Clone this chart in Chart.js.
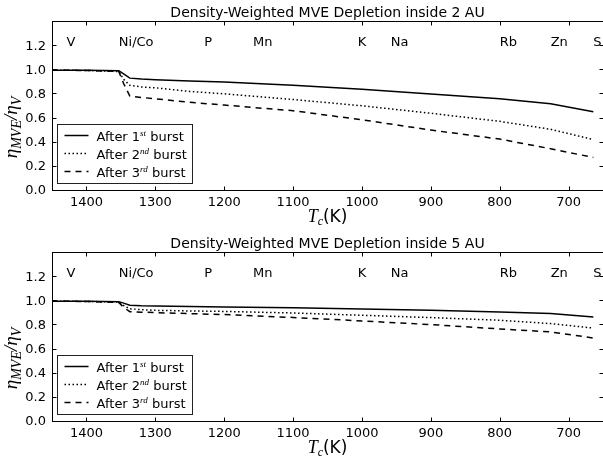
<!DOCTYPE html>
<html>
<head>
<meta charset="utf-8">
<script src="https://cdn.jsdelivr.net/npm/chart.js"></script>
<style>
  body { margin: 0; background: #fff; }
  canvas { display: block; }
</style>
</head>
<body>
<canvas id="chart2au" width="603" height="231"></canvas>
<canvas id="chart5au" width="603" height="233"></canvas>
<script>
// condensation temperature grid (K)
var tc = [1450, 1400, 1353, 1346, 1337, 1320, 1300, 1250, 1200, 1100, 1000, 900, 800, 726, 664];

// depletion ratio inside 2 AU
var au2Burst1 = [1.0, 1.0, 0.997, 0.97, 0.935, 0.927, 0.921, 0.912, 0.903, 0.876, 0.843, 0.803, 0.764, 0.722, 0.657];
var au2Burst2 = [1.0, 0.999, 0.99, 0.925, 0.875, 0.862, 0.855, 0.825, 0.805, 0.758, 0.706, 0.644, 0.577, 0.511, 0.426];
var au2Burst3 = [1.0, 0.999, 0.99, 0.89, 0.787, 0.775, 0.764, 0.735, 0.712, 0.665, 0.59, 0.505, 0.43, 0.35, 0.278];

// depletion ratio inside 5 AU
var au5Burst1 = [1.0, 1.0, 0.997, 0.985, 0.967, 0.963, 0.961, 0.957, 0.953, 0.946, 0.937, 0.925, 0.911, 0.898, 0.870];
var au5Burst2 = [1.0, 0.999, 0.993, 0.965, 0.938, 0.930, 0.925, 0.920, 0.916, 0.903, 0.884, 0.865, 0.843, 0.815, 0.778];
var au5Burst3 = [1.0, 0.999, 0.99, 0.95, 0.914, 0.910, 0.906, 0.898, 0.89, 0.866, 0.837, 0.807, 0.771, 0.746, 0.696];

var xTicks = [1400, 1300, 1200, 1100, 1000, 900, 800, 700];
var yTicks = [0, 0.2, 0.4, 0.6, 0.8, 1.0, 1.2];

// element labels placed at their condensation temperatures
var elements = ['V', 'Ni/Co', 'P', 'Mn', 'K', 'Na', 'Rb', 'Zn', 'S'];
var elementTc = [1429, 1353, 1229, 1158, 1006, 958, 800, 726, 664];

var burstNum = ['1', '2', '3'];
var burstSup = ['st', 'nd', 'rd'];
var lineDash = [[], [1.5, 2.5], [6, 5]];

var SANS = '"DejaVu Sans", sans-serif';
var SERIF = '"Liberation Serif", serif';

function points(ys) {
  return tc.map(function(t, i) { return { x: t, y: ys[i] }; });
}

// draws a run of [text, font, dy] pieces starting at x, returns end x
function drawRun(ctx, parts, x, y) {
  parts.forEach(function(p) {
    ctx.font = p[1];
    ctx.fillText(p[0], x, y + (p[2] || 0));
    x += ctx.measureText(p[0]).width;
  });
  return x;
}
function runWidth(ctx, parts) {
  var w = 0;
  parts.forEach(function(p) { ctx.font = p[1]; w += ctx.measureText(p[0]).width; });
  return w;
}

var decorations = {
  id: 'decorations',
  afterDraw: function(chart, args, opts) {
    var ctx = chart.ctx, a = chart.chartArea;
    var xs = chart.scales.x, ys = chart.scales.y;
    var L = Math.round(a.left) + 0.5, R = Math.round(a.right) + 0.5;
    var T = Math.round(a.top) - 0.5, B = Math.round(a.bottom) - 0.5;
    ctx.save();
    ctx.strokeStyle = '#000';
    ctx.fillStyle = '#000';
    ctx.lineWidth = 1;

    // frame
    ctx.strokeRect(L, T, R - L, B - T);

    // inward ticks on all four sides
    ctx.beginPath();
    xTicks.forEach(function(v) {
      var px = Math.round(xs.getPixelForValue(v)) + 0.5;
      ctx.moveTo(px, B); ctx.lineTo(px, B - 4);
      ctx.moveTo(px, T); ctx.lineTo(px, T + 4);
    });
    yTicks.forEach(function(v) {
      var py = Math.round(ys.getPixelForValue(v)) - 0.5;
      ctx.moveTo(L, py); ctx.lineTo(L + 4, py);
      ctx.moveTo(R, py); ctx.lineTo(R - 4, py);
    });
    ctx.stroke();

    // element names
    ctx.font = '13px ' + SANS;
    ctx.textAlign = 'left';
    ctx.textBaseline = 'alphabetic';
    elements.forEach(function(el, i) {
      ctx.fillText(el, xs.getPixelForValue(elementTc[i]), ys.getPixelForValue(1.2));
    });

    // title
    var cx = (a.left + a.right) / 2;
    ctx.textAlign = 'center';
    ctx.textBaseline = 'middle';
    ctx.font = '14px ' + SANS;
    ctx.fillText(opts.title, cx, a.top - 9);

    // x axis title: T_c(K)
    ctx.textAlign = 'left';
    ctx.textBaseline = 'alphabetic';
    var xt = [['T', 'italic 18px ' + SERIF, 0], ['c', 'italic 12px ' + SERIF, 3], ['(K)', '17px ' + SANS, 0]];
    drawRun(ctx, xt, cx - runWidth(ctx, xt) / 2, a.bottom + 31);

    // y axis title: eta_MVE / eta_V
    var yt = [['\u03b7', 'italic 19px ' + SERIF, 0], ['MVE', 'italic 14px ' + SERIF, 4],
              ['/', 'italic 19px ' + SERIF, 0], ['\u03b7', 'italic 19px ' + SERIF, 0],
              ['V', 'italic 14px ' + SERIF, 4]];
    ctx.save();
    ctx.translate(17, (a.top + a.bottom) / 2 + 21);
    ctx.rotate(-Math.PI / 2);
    drawRun(ctx, yt, -runWidth(ctx, yt) / 2, 0);
    ctx.restore();

    // legend
    var bx = Math.round(a.left) + 5.5, by = Math.round(a.bottom) - 66.5;
    ctx.fillStyle = '#fff';
    ctx.fillRect(bx, by, 135, 59);
    ctx.strokeStyle = '#222';
    ctx.strokeRect(bx, by, 135, 59);
    chart.data.datasets.forEach(function(ds, i) {
      var ry = by + 11 + i * 18;
      ctx.strokeStyle = ds.borderColor;
      ctx.lineWidth = ds.borderWidth;
      ctx.setLineDash(ds.borderDash);
      ctx.beginPath();
      ctx.moveTo(bx + 7, ry); ctx.lineTo(bx + 31, ry);
      ctx.stroke();
      ctx.setLineDash([]);
      ctx.fillStyle = '#000';
      drawRun(ctx, [['After ' + burstNum[i], '13px ' + SANS, 0],
                    [burstSup[i], 'italic 9px ' + SERIF, -5],
                    [' burst', '13px ' + SANS, 0]], bx + 39, ry + 5);
    });
    ctx.restore();
  }
};

function buildChart(id, title, series, axisHeight) {
  return new Chart(document.getElementById(id), {
    type: 'line',
    data: {
      datasets: series.map(function(s, i) {
        return {
          label: 'After ' + burstNum[i] + burstSup[i] + ' burst',
          data: points(s),
          borderColor: '#000',
          borderWidth: 1.5,
          borderDash: lineDash[i],
          pointRadius: 0,
          fill: false,
          tension: 0
        };
      })
    },
    options: {
      responsive: false,
      animation: false,
      devicePixelRatio: 1,
      layout: { padding: { top: 22, left: 0, right: 0, bottom: 0 } },
      plugins: {
        legend: { display: false },
        tooltip: { enabled: false },
        decorations: { title: title }
      },
      scales: {
        x: {
          type: 'linear',
          reverse: true,
          min: 650,
          max: 1450,
          grid: { display: false, drawTicks: false },
          border: { display: false },
          afterBuildTicks: function(s) { s.ticks = xTicks.map(function(v) { return { value: v }; }); },
          afterFit: function(s) { s.height = axisHeight; },
          ticks: {
            color: '#000', padding: 4, maxRotation: 0, font: { family: SANS, size: 13 },
            callback: function(v) { return String(v); }
          }
        },
        y: {
          min: 0,
          max: 1.4,
          grid: { display: false, drawTicks: false },
          border: { display: false },
          afterBuildTicks: function(s) { s.ticks = yTicks.map(function(v) { return { value: v }; }); },
          afterFit: function(s) { s.width = 52; },
          ticks: {
            color: '#000', padding: 6, font: { family: SANS, size: 13 },
            callback: function(v) { return v.toFixed(1); }
          }
        }
      }
    },
    plugins: [decorations]
  });
}

buildChart('chart2au', 'Density-Weighted MVE Depletion inside 2 AU', [au2Burst1, au2Burst2, au2Burst3], 40);
buildChart('chart5au', 'Density-Weighted MVE Depletion inside 5 AU', [au5Burst1, au5Burst2, au5Burst3], 42);
</script>
</body>
</html>
